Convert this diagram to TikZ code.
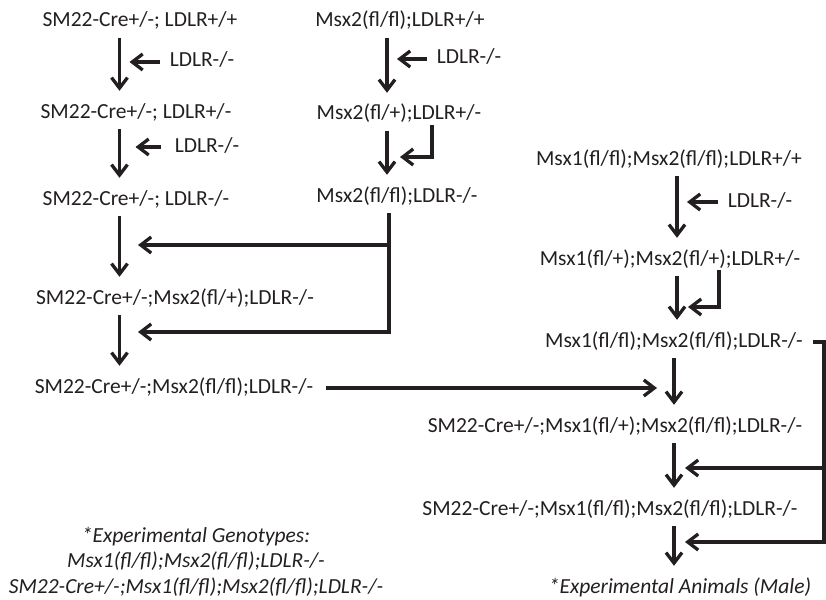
\documentclass[tikz,border=0pt]{standalone}
\usepackage{fontspec}
\setmainfont{Carlito}
\usepackage{tikz}
\usetikzlibrary{arrows.meta,positioning,calc}
\definecolor{InkBlack}{HTML}{231F20}

\begin{document}
\begin{tikzpicture}[
	x=1pt, y=-1pt,
	geno/.style={
		anchor=base,
		inner sep=0pt,
		text height=15pt,
		text depth=5pt,
		text=InkBlack,
		font=\fontsize{21.5}{25.5}\selectfont
	},
	remark/.style={
		inner sep=0pt,
		align=center,
		text=InkBlack,
		font=\fontsize{21.5}{25.5}\selectfont\itshape
	},
	flow/.style={
		-{Straight Barb[length=10.5pt,width=16pt]},
		line width=3.3pt,
		draw=InkBlack
	},
	drop/.style={
		flow,
		shorten <=6pt,
		shorten >=12pt
	},
	cross/.style={
		flow,
		shorten <=10pt,
		shorten >=10pt
	}
]
\useasboundingbox (0,0) rectangle (826,599);

\coordinate (colA) at (119.5,0);
\coordinate (colB) at (387,0);
\coordinate (colC) at (677,0);
\coordinate (colD) at (674,0);
\coordinate (railB) at (389,0);
\coordinate (railC) at (824,0);
\coordinate (kinkB) at (432,0);
\coordinate (kinkC) at (719,0);
\coordinate (tipB) at (400,157);
\coordinate (tipC) at (688,307);
\coordinate (tipA1) at (138,245);
\coordinate (tipA2) at (138,332);
\coordinate (joinD) at (657,0);
\coordinate (tipE1) at (685,468);
\coordinate (tipE2) at (685,542);

\node[geno] (sm1) at (140,27) {SM22-Cre+/-; LDLR+/+};
\node[geno] (sm2) at (136,118) {SM22-Cre+/-; LDLR+/-};
\node[geno] (sm3) at (136,205) {SM22-Cre+/-; LDLR-/-};
\node[geno] (sm4) at (175,304) {SM22-Cre+/-;Msx2(fl/+);LDLR-/-};
\node[geno] (sm5) at (174,393) {SM22-Cre+/-;Msx2(fl/fl);LDLR-/-};

\node[geno] (msx1) at (400,27) {Msx2(fl/fl);LDLR+/+};
\node[geno] (msx2) at (399,120) {Msx2(fl/+);LDLR+/-};
\node[geno] (msx3) at (397,202) {Msx2(fl/fl);LDLR-/-};

\node[geno] (dbl1) at (669,165) {Msx1(fl/fl);Msx2(fl/fl);LDLR+/+};
\node[geno] (dbl2) at (670,265) {Msx1(fl/+);Msx2(fl/+);LDLR+/-};
\node[geno] (dbl3) at (674,347) {Msx1(fl/fl);Msx2(fl/fl);LDLR-/-};
\node[geno] (cre1) at (615,432) {SM22-Cre+/-;Msx1(fl/+);Msx2(fl/fl);LDLR-/-};
\node[geno] (cre2) at (610,515) {SM22-Cre+/-;Msx1(fl/fl);Msx2(fl/fl);LDLR-/-};
\node[geno, font=\fontsize{21.5}{25.5}\selectfont\itshape] (males) at (680,593) {*Experimental Animals (Male)};

\node[geno] (ldlr1) at (202,67) {LDLR-/-};
\node[geno] (ldlr2) at (207,152) {LDLR-/-};
\node[geno] (ldlr3) at (469,64) {LDLR-/-};
\node[geno] (ldlr4) at (760,207) {LDLR-/-};

\node[remark, anchor=north] (note) at (196,527)
	{*Experimental Genotypes:\\Msx1(fl/fl);Msx2(fl/fl);LDLR-/-\\SM22-Cre+/-;Msx1(fl/fl);Msx2(fl/fl);LDLR-/-};

\draw[drop] (sm1.south -| colA) -- (sm2.north -| colA);
\draw[drop] (sm2.south -| colA) -- (sm3.north -| colA);
\draw[drop] (sm3.south -| colA) -- (sm4.north -| colA);
\draw[drop] (sm4.south -| colA) -- (sm5.north -| colA);

\draw[drop] (msx1.south -| colB) -- (msx2.north -| colB);
\draw[drop] (msx2.south -| colB) -- (msx3.north -| colB);

\draw[drop] (dbl1.south -| colC) -- (dbl2.north -| colC);
\draw[drop] (dbl2.south -| colC) -- (dbl3.north -| colC);
\draw[drop] (dbl3.south -| colD) -- (cre1.north -| colD);
\draw[drop] (cre1.south -| colD) -- (cre2.north -| colD);
\draw[drop] (cre2.south -| colD) -- (males.north -| colD);

\draw[cross] (ldlr1.west) -- (ldlr1.west -| colA);
\draw[cross, shorten <=14pt, shorten >=16pt] (ldlr2.west) -- (ldlr2.west -| colA);
\draw[cross] (ldlr3.west) -- (ldlr3.west -| colB);
\draw[cross] (ldlr4.west) -- (ldlr4.west -| colC);

\draw[flow] (msx2.south -| kinkB) |- (tipB);
\draw[flow] (dbl2.south -| kinkC) |- (tipC);

\draw[flow, shorten <=6pt] (msx3.south -| railB) |- (tipA1);
\draw[flow, shorten <=6pt] (msx3.south -| railB) |- (tipA2);

\draw[flow, shorten <=13pt] (sm5.east) -- (sm5.east -| joinD);

\draw[flow, shorten <=10pt] (dbl3.east) -- (dbl3.east -| railC) |- (tipE1);
\draw[flow, shorten <=10pt] (dbl3.east) -- (dbl3.east -| railC) |- (tipE2);

\end{tikzpicture}
\end{document}
